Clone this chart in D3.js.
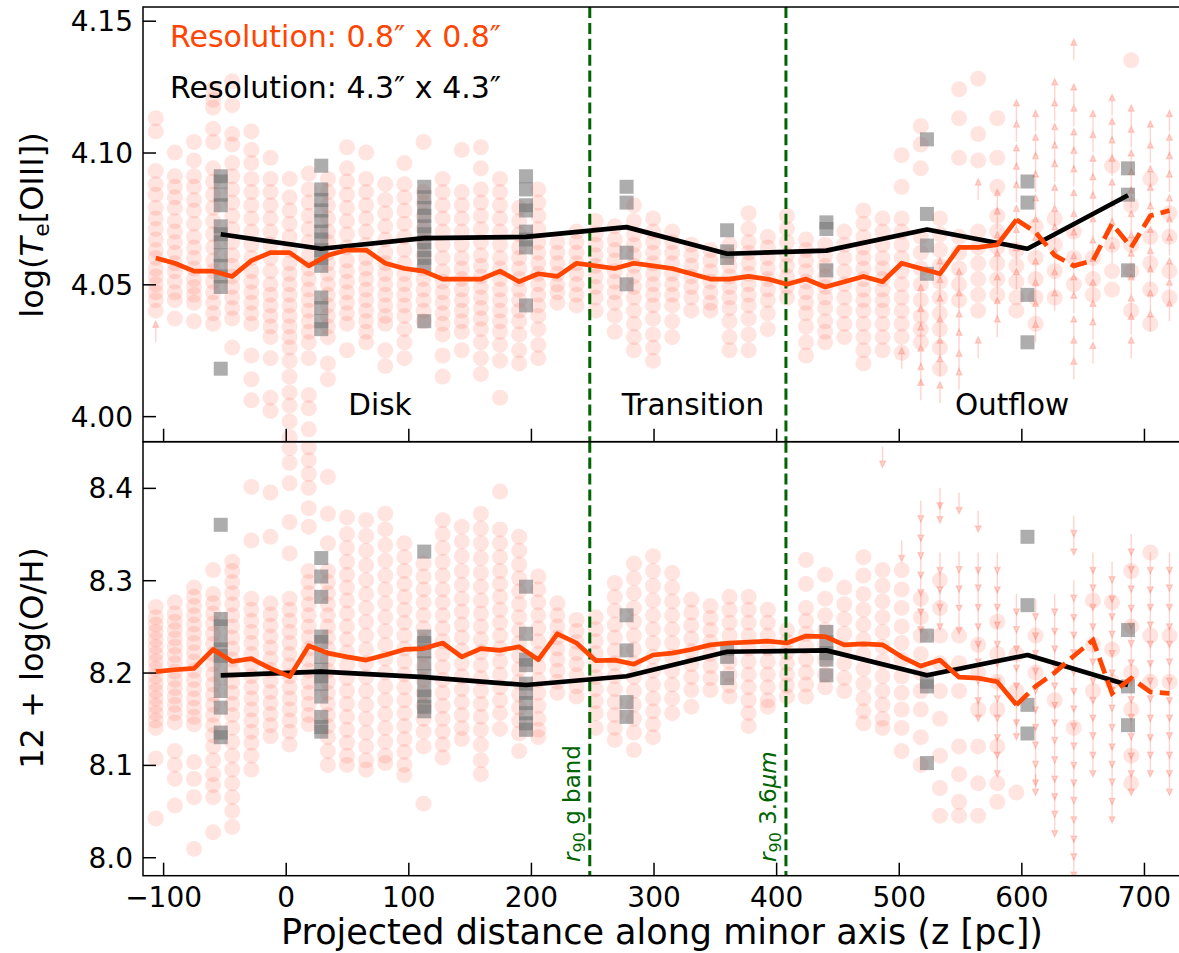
<!DOCTYPE html>
<html>
<head>
<meta charset="utf-8">
<script src="https://cdn.jsdelivr.net/npm/d3@7"></script>
<style>
  body { margin: 0; background: #fff; }
  svg { display: block; font-family: "DejaVu Sans", sans-serif; }
</style>
</head>
<body>
<svg id="chart" width="1179" height="953"></svg>
<script>
// ---- Fine-resolution (0.8") profile: bin centres along the minor axis [pc]
const zBins = [-106, -90.4, -74.8, -59.2, -43.6, -28, -12.4, 3.2, 18.8, 34.4, 50, 65.6, 81.2, 96.8,
  112.4, 128, 143.6, 159.2, 174.8, 190.4, 206, 221.6, 237.2, 252.8, 268.4, 284, 299.6, 315.2,
  330.8, 346.4, 362, 377.6, 393.2, 408.8, 424.4, 440, 455.6, 471.2, 486.8, 502.4, 518, 533.6,
  549.2, 564.8, 580.4, 596, 611.6, 627.2, 642.8, 658.4, 674, 689.6, 705.2, 720.8];

// median log Te[OIII] per bin
const teMedian = [4.060, 4.058, 4.055, 4.055, 4.053, 4.059, 4.062, 4.062, 4.057, 4.061, 4.063, 4.063,
  4.058, 4.056, 4.055, 4.052, 4.052, 4.052, 4.055, 4.051, 4.054, 4.053, 4.058, 4.057, 4.056, 4.058,
  4.057, 4.056, 4.054, 4.052, 4.052, 4.053, 4.052, 4.050, 4.052, 4.049, 4.051, 4.053, 4.051, 4.058,
  4.056, 4.054, 4.064, 4.064, 4.065, 4.0745, 4.0698, 4.061, 4.057, 4.059, 4.073, 4.064, 4.076, 4.078];

// median 12 + log(O/H) per bin
const ohMedian = [8.201, 8.203, 8.2045, 8.225, 8.212, 8.215, 8.2045, 8.1955, 8.229, 8.221, 8.217,
  8.2135, 8.219, 8.225, 8.226, 8.232, 8.217, 8.226, 8.224, 8.228, 8.214, 8.242, 8.232, 8.213, 8.2135,
  8.209, 8.219, 8.221, 8.225, 8.230, 8.232, 8.233, 8.234, 8.232, 8.2395, 8.239, 8.230, 8.231, 8.230,
  8.217, 8.207, 8.2135, 8.195, 8.194, 8.190, 8.165, 8.185, 8.200, 8.218, 8.235, 8.1775, 8.194, 8.179, 8.1775];

// bins from here on are dominated by limits: drawn dashed
const limitStart = 45;

// ---- Coarse-resolution (4.3") profile
const zCoarse = [-53, 29, 113, 196, 278, 360, 441, 523, 605, 687];
const teCoarse = [4.069, 4.0635, 4.0675, 4.068, 4.0717, 4.0616, 4.0628, 4.0708, 4.0635, 4.0838];
const ohCoarse = [8.197, 8.201, 8.195, 8.1865, 8.196, 8.2225, 8.224, 8.197, 8.219, 8.1865];

// individual coarse spaxels, one list per coarse bin
const teCoarseSpax = [
  [4.091, 4.089, 4.084, 4.080, 4.072, 4.069, 4.066, 4.061, 4.057, 4.053, 4.049, 4.018],
  [4.095, 4.086, 4.082, 4.078, 4.074, 4.070, 4.067, 4.063, 4.060, 4.057, 4.045, 4.041, 4.036, 4.033],
  [4.087, 4.083, 4.079, 4.076, 4.072, 4.069, 4.066, 4.063, 4.060, 4.057, 4.036],
  [4.091, 4.086, 4.080, 4.078, 4.070, 4.067, 4.064, 4.042],
  [4.087, 4.081, 4.062, 4.050],
  [4.0705, 4.0625, 4.060],
  [4.0735, 4.071, 4.0553],
  [4.105, 4.0767, 4.0647, 4.054],
  [4.089, 4.081, 4.046, 4.028],
  [4.094, 4.084, 4.0553]
];
const ohCoarseSpax = [
  [8.360, 8.258, 8.250, 8.235, 8.225, 8.218, 8.210, 8.195, 8.180, 8.162, 8.135, 8.130],
  [8.324, 8.304, 8.282, 8.239, 8.233, 8.217, 8.203, 8.196, 8.188, 8.174, 8.152, 8.141, 8.136],
  [8.331, 8.239, 8.232, 8.223, 8.210, 8.196, 8.181, 8.174, 8.163, 8.158],
  [8.293, 8.242, 8.214, 8.208, 8.188, 8.178, 8.167, 8.156, 8.145, 8.138],
  [8.262, 8.224, 8.168, 8.152],
  [8.226, 8.217, 8.194],
  [8.244, 8.233, 8.221, 8.214, 8.197],
  [8.240, 8.190, 8.185, 8.102],
  [8.347, 8.273, 8.165, 8.134],
  [8.246, 8.185, 8.143]
];

// individual fine spaxels (detections), one list per fine bin
const teSpax = [
  [4.113,4.108,4.093,4.088,4.084,4.079,4.075,4.071,4.067,4.063,4.060,4.056,4.053,4.050,4.047,4.044,4.040],
  [4.100,4.091,4.087,4.083,4.079,4.074,4.070,4.066,4.062,4.058,4.055,4.051,4.047,4.044,4.037],
  [4.104,4.097,4.091,4.087,4.082,4.078,4.073,4.068,4.064,4.060,4.056,4.052,4.049,4.046,4.043,4.036],
  [4.124,4.120,4.117,4.109,4.104,4.094,4.089,4.084,4.079,4.074,4.069,4.064,4.059,4.055,4.051,4.047,4.043,4.039,4.035],
  [4.127,4.118,4.107,4.103,4.096,4.091,4.086,4.081,4.076,4.071,4.066,4.061,4.057,4.053,4.049,4.045,4.041,4.037,4.026],
  [4.108,4.101,4.096,4.090,4.085,4.080,4.075,4.070,4.065,4.060,4.055,4.051,4.047,4.043,4.039,4.035,4.023,4.014,4.006],
  [4.098,4.090,4.085,4.080,4.075,4.070,4.065,4.060,4.055,4.050,4.046,4.042,4.038,4.034,4.030,4.022,4.007,4.002],
  [4.090,4.083,4.078,4.073,4.068,4.063,4.058,4.054,4.050,4.046,4.042,4.038,4.034,4.030,4.026,4.021,4.015,4.009,4.004,3.998,3.992],
  [4.092,4.086,4.081,4.076,4.071,4.066,4.061,4.056,4.052,4.048,4.044,4.040,4.036,4.032,4.028,4.022,4.008,4.003,3.995],
  [4.090,4.085,4.080,4.075,4.070,4.066,4.062,4.058,4.054,4.050,4.046,4.042,4.038,4.034,4.030,4.020,4.014],
  [4.102,4.094,4.089,4.084,4.079,4.074,4.069,4.064,4.059,4.055,4.051,4.047,4.043,4.039,4.035,4.025],
  [4.100,4.090,4.085,4.080,4.075,4.070,4.065,4.060,4.056,4.052,4.048,4.044,4.040,4.036,4.032,4.028],
  [4.088,4.082,4.077,4.072,4.067,4.062,4.058,4.054,4.050,4.046,4.042,4.038,4.035,4.025,4.019],
  [4.096,4.088,4.083,4.078,4.073,4.068,4.063,4.058,4.054,4.050,4.046,4.042,4.038,4.033,4.028,4.022],
  [4.104,4.085,4.081,4.076,4.071,4.066,4.061,4.056,4.052,4.048,4.044,4.040,4.036],
  [4.090,4.085,4.080,4.075,4.070,4.065,4.060,4.055,4.051,4.047,4.043,4.039,4.035,4.031,4.023,4.015],
  [4.101,4.085,4.080,4.075,4.070,4.065,4.060,4.056,4.052,4.048,4.044,4.040,4.036,4.032,4.025],
  [4.102,4.094,4.086,4.081,4.076,4.071,4.066,4.061,4.057,4.053,4.049,4.045,4.041,4.037,4.033,4.028,4.022,4.016],
  [4.090,4.085,4.080,4.075,4.070,4.065,4.060,4.056,4.052,4.048,4.044,4.040,4.036,4.032,4.027,4.021,4.007],
  [4.079,4.074,4.069,4.064,4.060,4.056,4.052,4.048,4.044,4.040,4.036,4.031,4.025,4.020],
  [4.086,4.081,4.076,4.071,4.066,4.062,4.058,4.054,4.050,4.046,4.042,4.038,4.033,4.027,4.022],
  [4.066,4.062,4.058,4.054,4.050,4.047,4.043],
  [4.070,4.066,4.062,4.058,4.054,4.050,4.046,4.042],
  [4.074,4.069,4.065,4.061,4.057,4.053,4.049,4.045,4.040],
  [4.072,4.067,4.063,4.059,4.055,4.051,4.047,4.043,4.038,4.032],
  [4.080,4.074,4.069,4.065,4.061,4.057,4.053,4.049,4.045,4.040,4.035,4.030,4.025],
  [4.075,4.070,4.066,4.062,4.058,4.054,4.050,4.046,4.042,4.037,4.031,4.026,4.021],
  [4.070,4.066,4.062,4.058,4.054,4.050,4.046,4.042,4.036,4.030],
  [4.065,4.061,4.057,4.053,4.049,4.045,4.040],
  [4.063,4.059,4.055,4.051,4.047,4.043,4.040],
  [4.065,4.061,4.057,4.053,4.049,4.045,4.041,4.036,4.030,4.025],
  [4.077,4.071,4.066,4.062,4.058,4.054,4.050,4.046,4.042,4.037,4.031,4.025],
  [4.068,4.064,4.060,4.056,4.052,4.048,4.044,4.039,4.033],
  [4.076,4.071,4.066,4.061,4.057,4.053,4.049,4.045],
  [4.067,4.063,4.059,4.055,4.051,4.047,4.043,4.039,4.034,4.028,4.023],
  [4.065,4.061,4.057,4.053,4.049,4.045,4.041,4.036,4.032,4.028],
  [4.070,4.065,4.060,4.055,4.050,4.045,4.040,4.035,4.030],
  [4.078,4.073,4.068,4.064,4.060,4.056,4.052,4.048,4.044,4.040,4.035,4.030,4.025,4.020],
  [4.075,4.070,4.065,4.060,4.056,4.052,4.048,4.044,4.040,4.035,4.030,4.025],
  [4.099,4.087,4.075,4.070,4.065,4.060,4.055,4.050,4.045,4.040,4.035,4.030,4.024],
  [4.110,4.103,4.094,4.068,4.062,4.056,4.050,4.044,4.038,4.033,4.028],
  [4.075,4.069,4.063,4.057,4.051,4.045,4.039,4.033,4.026,4.018],
  [4.124,4.113,4.098,4.068,4.062,4.056,4.050,4.044],
  [4.128,4.107,4.097,4.070,4.064,4.058,4.052,4.046,4.040],
  [4.113,4.098,4.087,4.076,4.070,4.064,4.058,4.052,4.046],
  [4.063,4.057,4.051,4.045,4.040],
  [4.072,4.060,4.052,4.045,4.035],
  [4.075,4.065,4.055,4.045],
  [4.070,4.060,4.050],
  [4.060,4.052,4.046],
  [4.095,4.065,4.055,4.048],
  [4.135,4.080,4.065,4.055,4.040],
  [4.090,4.068,4.058,4.048,4.035],
  [4.077,4.068,4.055,4.045]
];

const ohSpax = [
  [8.271,8.260,8.252,8.244,8.236,8.228,8.220,8.212,8.204,8.196,8.188,8.180,8.172,8.164,8.156,8.148,8.140,8.107,8.042],
  [8.276,8.264,8.255,8.246,8.237,8.228,8.219,8.210,8.201,8.192,8.183,8.174,8.165,8.156,8.146,8.115,8.100,8.085,8.056],
  [8.292,8.282,8.272,8.262,8.252,8.242,8.232,8.222,8.212,8.202,8.192,8.182,8.172,8.162,8.152,8.144,8.103,8.085,8.065,8.009],
  [8.311,8.285,8.275,8.264,8.253,8.242,8.231,8.220,8.209,8.198,8.187,8.176,8.165,8.154,8.143,8.132,8.120,8.105,8.090,8.078,8.065,8.027],
  [8.320,8.310,8.298,8.286,8.274,8.262,8.250,8.238,8.226,8.214,8.202,8.190,8.178,8.166,8.154,8.140,8.125,8.110,8.095,8.080,8.065,8.050,8.033],
  [8.401,8.343,8.280,8.268,8.256,8.244,8.232,8.220,8.208,8.196,8.184,8.172,8.160,8.148,8.136,8.124,8.110,8.095],
  [8.395,8.347,8.275,8.263,8.251,8.239,8.227,8.215,8.203,8.191,8.179,8.167,8.155,8.143,8.131],
  [8.443,8.427,8.405,8.363,8.329,8.280,8.268,8.256,8.244,8.232,8.220,8.208,8.196,8.184,8.172,8.160,8.148,8.136,8.122],
  [8.444,8.430,8.415,8.400,8.378,8.358,8.310,8.298,8.286,8.274,8.262,8.250,8.238,8.226,8.214,8.202,8.190,8.178,8.166,8.154,8.144],
  [8.412,8.372,8.340,8.310,8.298,8.286,8.274,8.262,8.250,8.238,8.226,8.214,8.202,8.190,8.178,8.166,8.154,8.142,8.130,8.115,8.100],
  [8.368,8.350,8.335,8.320,8.306,8.292,8.278,8.264,8.250,8.236,8.222,8.208,8.194,8.180,8.166,8.152,8.138,8.124,8.110,8.100],
  [8.365,8.348,8.332,8.316,8.300,8.285,8.270,8.255,8.240,8.225,8.210,8.195,8.180,8.165,8.150,8.135,8.120,8.105,8.095],
  [8.372,8.355,8.338,8.321,8.305,8.290,8.275,8.260,8.245,8.230,8.215,8.200,8.185,8.170,8.155,8.140,8.125,8.110,8.102],
  [8.340,8.325,8.310,8.296,8.282,8.268,8.254,8.240,8.226,8.212,8.198,8.184,8.170,8.156,8.142,8.128,8.114,8.100,8.089],
  [8.318,8.304,8.290,8.276,8.262,8.248,8.234,8.220,8.206,8.192,8.178,8.164,8.150,8.136,8.120,8.058],
  [8.365,8.350,8.335,8.320,8.305,8.290,8.276,8.262,8.248,8.234,8.220,8.206,8.192,8.178,8.164,8.150,8.136,8.122,8.108],
  [8.358,8.342,8.326,8.310,8.295,8.280,8.266,8.252,8.238,8.224,8.210,8.196,8.182,8.168,8.154,8.140,8.128],
  [8.372,8.356,8.340,8.324,8.308,8.293,8.278,8.264,8.250,8.236,8.222,8.208,8.194,8.180,8.166,8.152,8.138,8.122,8.105,8.090],
  [8.396,8.355,8.340,8.325,8.310,8.296,8.282,8.268,8.254,8.240,8.226,8.212,8.198,8.184,8.170,8.156,8.139],
  [8.347,8.332,8.317,8.302,8.288,8.274,8.260,8.246,8.232,8.218,8.204,8.190,8.176,8.162,8.148,8.134,8.115],
  [8.304,8.290,8.276,8.262,8.248,8.234,8.220,8.206,8.192,8.178,8.164,8.150,8.138,8.130],
  [8.275,8.262,8.250,8.238,8.226,8.214,8.202,8.190,8.178],
  [8.257,8.245,8.233,8.221,8.209,8.197,8.185,8.174],
  [8.260,8.247,8.234,8.221,8.208,8.195,8.182,8.169,8.156,8.140],
  [8.297,8.282,8.267,8.252,8.238,8.224,8.210,8.196,8.182,8.168,8.154,8.140,8.127],
  [8.318,8.302,8.286,8.270,8.255,8.240,8.225,8.210,8.195,8.180,8.165,8.150,8.135,8.116],
  [8.326,8.310,8.294,8.278,8.262,8.247,8.232,8.217,8.202,8.187,8.172,8.158,8.144,8.130],
  [8.308,8.292,8.277,8.262,8.247,8.232,8.217,8.202,8.187,8.172,8.156],
  [8.279,8.265,8.251,8.237,8.223,8.209,8.195,8.181,8.163],
  [8.272,8.259,8.246,8.233,8.220,8.207,8.194,8.181],
  [8.282,8.268,8.254,8.240,8.226,8.212,8.198,8.186,8.174],
  [8.282,8.268,8.254,8.240,8.226,8.212,8.198,8.184,8.170,8.156,8.142],
  [8.268,8.254,8.240,8.226,8.212,8.198,8.184,8.170,8.163],
  [8.246,8.234,8.222,8.210,8.198,8.186,8.174],
  [8.322,8.296,8.270,8.256,8.242,8.228,8.214,8.200,8.187,8.174],
  [8.306,8.280,8.262,8.246,8.230,8.214,8.198,8.184],
  [8.292,8.274,8.258,8.242,8.226,8.210,8.194,8.180],
  [8.325,8.305,8.285,8.268,8.252,8.236,8.220,8.204,8.188,8.172,8.158,8.145],
  [8.311,8.294,8.277,8.260,8.244,8.228,8.212,8.196,8.180,8.165,8.150,8.140],
  [8.311,8.290,8.270,8.250,8.232,8.214,8.196,8.178,8.160,8.140,8.115],
  [8.280,8.260,8.240,8.220,8.200,8.180,8.160,8.130,8.100],
  [8.300,8.270,8.240,8.210,8.180,8.150,8.110,8.075,8.045],
  [8.240,8.210,8.180,8.120,8.090,8.060,8.045],
  [8.230,8.200,8.160,8.120,8.080,8.045],
  [8.255,8.220,8.190,8.160,8.120,8.080,8.060],
  [8.220,8.180,8.070],
  [8.240,8.200],
  [8.170],
  [8.140],
  [8.278,8.230,8.180],
  [8.276,8.225,8.190],
  [8.310,8.250,8.200,8.160,8.110,8.080],
  [8.330,8.240,8.190],
  [8.240,8.190]
];

// lower limits on Te (arrows up), per fine bin
const teLower = [
  [4.028], [], [], [], [], [], [], [], [], [], [], [], [], [], [], [], [], [], [], [],
  [], [], [], [], [], [], [], [], [], [], [], [], [], [], [], [], [], [], [],
  [4.018],
  [4.042,4.034,4.027,4.019,4.012,4.006],
  [4.052,4.045,4.038,4.030,4.022,4.015,4.005],
  [4.048,4.040,4.032,4.025,4.017,4.010],
  [4.082,4.022],
  [4.078,4.071,4.062,4.055,4.046,4.037,4.030],
  [4.112,4.104,4.095,4.088,4.081,4.072,4.064,4.057,4.048],
  [4.108,4.099,4.092,4.085,4.076,4.068,4.061,4.052,4.044,4.036,4.028],
  [4.120,4.112,4.103,4.096,4.089,4.080,4.072,4.065,4.056,4.048,4.040],
  [4.135,4.118,4.110,4.101,4.094,4.087,4.078,4.070,4.063,4.054,4.046,4.039,4.030,4.022,4.014],
  [4.108,4.100,4.091,4.084,4.077,4.068,4.060,4.053,4.044,4.036,4.029,4.020],
  [4.114,4.105,4.098,4.091,4.082,4.074,4.067,4.058],
  [4.110,4.102,4.093,4.086,4.079,4.070,4.062,4.055,4.046,4.038,4.031,4.022],
  [4.104,4.096,4.087,4.080,4.073,4.064,4.056,4.049,4.040,4.032],
  [4.108,4.099,4.092,4.085,4.076,4.068,4.061,4.052,4.044,4.036]
];

// upper limits on O/H (arrows down), per fine bin
const ohUpper = [
  [], [], [], [], [], [], [], [], [], [], [], [], [], [], [], [], [], [], [], [],
  [], [], [], [], [], [], [], [], [], [], [], [], [], [], [], [], [], [],
  [8.445],
  [8.343],
  [8.386,8.365,8.346,8.325,8.306,8.285,8.266],
  [8.400,8.385,8.330,8.309,8.290,8.269],
  [8.395,8.331,8.310,8.289,8.265],
  [8.375,8.330,8.311,8.290,8.269,8.250,8.231,8.210,8.189,8.170],
  [8.330,8.309,8.290,8.271,8.250,8.229,8.210,8.191,8.170,8.149,8.130,8.110],
  [8.285,8.266,8.245,8.224,8.205,8.186,8.165,8.150],
  [8.280,8.259,8.240,8.221,8.200,8.179,8.160,8.141,8.120,8.100,8.090],
  [8.285,8.264,8.245,8.226,8.205,8.184,8.165,8.146,8.125,8.104,8.085,8.066,8.045],
  [8.370,8.350,8.300,8.279,8.260,8.241,8.220,8.199,8.180,8.161,8.140,8.119,8.100,8.081,8.060,8.039,8.020,8.000],
  [8.330,8.311,8.290,8.269,8.250,8.231,8.210,8.189,8.170,8.151,8.130,8.110],
  [8.320,8.299,8.280,8.261,8.240,8.219,8.200,8.181,8.160,8.139,8.120,8.101,8.080,8.060],
  [8.350,8.331,8.310,8.289,8.270,8.251,8.230,8.209,8.190,8.171,8.150,8.129,8.110,8.090],
  [8.330,8.309,8.290,8.271,8.250,8.229,8.210,8.191,8.170,8.149,8.130,8.110],
  [8.330,8.311,8.290,8.269,8.250,8.231,8.210,8.189,8.170,8.151,8.130,8.110,8.090]
];

// radii enclosing 90% of the light
const r90 = [
  { z: 248, band: "g band", unit: false },
  { z: 408, band: "3.6", unit: true }
];

const xTicks = [-100, 0, 100, 200, 300, 400, 500, 600, 700];
const teTicks = [4.00, 4.05, 4.10, 4.15];
const ohTicks = [8.0, 8.1, 8.2, 8.3, 8.4];

// ---------------------------------------------------------------- drawing
const svg = d3.select("#chart");
const FONT = "DejaVu Sans";
const RED = "#ff4500";
const SPAX = "#ff5a40";
const GREEN = "#006400";

const left = 143, right = 1180;
const x = d3.scaleLinear().domain([-116.4, 729.4]).range([left, right]);

const panels = [
  { key: "te", top: 7, bottom: 441.7, y: d3.scaleLinear().domain([3.9903, 4.1552]).range([441.7, 7]),
    spax: teSpax, limits: teLower, dir: -1, median: teMedian, coarse: teCoarse, coarseSpax: teCoarseSpax,
    ticks: teTicks, fmt: d3.format(".2f") },
  { key: "oh", top: 441.7, bottom: 875.7, y: d3.scaleLinear().domain([7.980, 8.450]).range([875.7, 441.7]),
    spax: ohSpax, limits: ohUpper, dir: 1, median: ohMedian, coarse: ohCoarse, coarseSpax: ohCoarseSpax,
    ticks: ohTicks, fmt: d3.format(".1f") }
];

const defs = svg.append("defs");

panels.forEach(p => {
  defs.append("clipPath").attr("id", "clip-" + p.key)
    .append("rect").attr("x", left).attr("y", p.top)
    .attr("width", right - left).attr("height", p.bottom - p.top);

  const g = svg.append("g").attr("clip-path", `url(#clip-${p.key})`);
  const y = p.y;

  // fine spaxels
  const pts = [];
  p.spax.forEach((col, i) => col.forEach(v => pts.push([zBins[i], v])));
  g.append("g").selectAll("circle").data(pts).join("circle")
    .attr("cx", d => x(d[0])).attr("cy", d => y(d[1])).attr("r", 8)
    .attr("fill", SPAX).attr("fill-opacity", 0.165);

  // limits drawn as arrows
  const lims = [];
  p.limits.forEach((col, i) => col.forEach(v => lims.push([zBins[i], v])));
  const L = 15, hw = 2.8, hl = 6;
  const arr = g.append("g").attr("fill", SPAX).attr("stroke", SPAX)
    .attr("fill-opacity", 0.26).attr("stroke-opacity", 0.26);
  arr.selectAll("path").data(lims).join("path")
    .attr("d", d => {
      const cx = x(d[0]), cy = y(d[1]), s = p.dir;
      const tip = cy + s * (L + hl);
      return `M${cx},${cy}L${cx},${cy + s * L}` +
        `M${cx},${tip}L${cx - hw},${cy + s * L}L${cx + hw},${cy + s * L}Z`;
    })
    .attr("stroke-width", 1.4);

  // r90 markers
  g.selectAll("line.r90").data(r90).join("line").attr("class", "r90")
    .attr("x1", d => x(d.z)).attr("x2", d => x(d.z))
    .attr("y1", p.top).attr("y2", p.bottom)
    .attr("stroke", GREEN).attr("stroke-width", 3).attr("stroke-dasharray", "11.1,4.8");

  // coarse spaxels
  const sq = [];
  p.coarseSpax.forEach((col, i) => col.forEach(v => sq.push([zCoarse[i], v])));
  g.append("g").selectAll("rect").data(sq).join("rect")
    .attr("x", d => x(d[0]) - 7).attr("y", d => y(d[1]) - 7)
    .attr("width", 14).attr("height", 14)
    .attr("fill", "#767676").attr("fill-opacity", 0.6);

  // coarse median profile
  const line = d3.line().x(d => x(d[0])).y(d => y(d[1]));
  g.append("path").datum(zCoarse.map((z, i) => [z, p.coarse[i]]))
    .attr("d", line).attr("fill", "none").attr("stroke", "#000")
    .attr("stroke-width", 4.7).attr("stroke-linejoin", "round");

  // fine median profile: solid, then dashed where limits dominate
  const fine = zBins.map((z, i) => [z, p.median[i]]);
  g.append("path").datum(fine.slice(0, limitStart + 1))
    .attr("d", line).attr("fill", "none").attr("stroke", RED)
    .attr("stroke-width", 4.7).attr("stroke-linejoin", "round");
  g.append("path").datum(fine.slice(limitStart))
    .attr("d", line).attr("fill", "none").attr("stroke", RED)
    .attr("stroke-width", 4.7).attr("stroke-dasharray", "16.6,7.2");

  // frame
  svg.append("rect").attr("x", left).attr("y", p.top)
    .attr("width", right - left).attr("height", p.bottom - p.top)
    .attr("fill", "none").attr("stroke", "#000").attr("stroke-width", 1.5);

  // y axis, ticks pointing inward
  const ya = svg.append("g").attr("transform", `translate(${left},0)`)
    .call(d3.axisLeft(y).tickValues(p.ticks).tickFormat(p.fmt)
      .tickSizeInner(-13).tickSizeOuter(0).tickPadding(10));
  ya.select(".domain").remove();
  ya.selectAll("line").attr("stroke-width", 1.5);
  ya.selectAll("text").attr("font-size", 28).attr("font-family", FONT).attr("fill", "#000").attr("dy", "0.36em");

  // x ticks at the bottom of each panel
  const xa = svg.append("g").attr("transform", `translate(0,${p.bottom})`)
    .call(d3.axisBottom(x).tickValues(xTicks)
      .tickFormat(p.key === "oh" ? d3.format("d") : () => "")
      .tickSizeInner(-13).tickSizeOuter(0).tickPadding(11));
  xa.select(".domain").remove();
  xa.selectAll("line").attr("stroke-width", 1.5);
  xa.selectAll("text").attr("font-size", 28).attr("font-family", FONT).attr("fill", "#000");
});

// r90 labels (bottom panel)
r90.forEach(d => {
  const t = svg.append("text")
    .attr("transform", `translate(${x(d.z) - 10},862) rotate(-90)`)
    .attr("font-family", FONT).attr("font-size", 23).attr("fill", GREEN);
  t.append("tspan").attr("font-style", "italic").text("r");
  t.append("tspan").attr("font-size", 16).attr("dy", 5).text("90");
  t.append("tspan").attr("dy", -5).text(" " + d.band);
  if (d.unit) t.append("tspan").attr("font-style", "italic").text("μm");
});

// region names
[["Disk", 380], ["Transition", 693], ["Outflow", 1012]].forEach(([s, cx]) => {
  svg.append("text").attr("x", cx).attr("y", 415).attr("text-anchor", "middle")
    .attr("font-family", FONT).attr("font-size", 29.5).attr("fill", "#000").text(s);
});

// resolution key
svg.append("text").attr("x", 170).attr("y", 47).attr("font-family", FONT)
  .attr("font-size", 30).attr("fill", RED).text("Resolution: 0.8″ x 0.8″");
svg.append("text").attr("x", 170).attr("y", 98).attr("font-family", FONT)
  .attr("font-size", 30).attr("fill", "#000").text("Resolution: 4.3″ x 4.3″");

// axis titles
const yl1 = svg.append("text").attr("transform", "translate(43,225) rotate(-90)")
  .attr("text-anchor", "middle").attr("font-family", FONT).attr("font-size", 32).attr("fill", "#000");
yl1.append("tspan").text("log(");
yl1.append("tspan").attr("font-style", "italic").text("T");
yl1.append("tspan").attr("font-size", 22).attr("dy", 6).text("e");
yl1.append("tspan").attr("dy", -6).text("[OIII])");

svg.append("text").attr("transform", "translate(43,658) rotate(-90)")
  .attr("text-anchor", "middle").attr("font-family", FONT).attr("font-size", 32).attr("fill", "#000")
  .text("12 + log(O/H)");

svg.append("text").attr("x", 662).attr("y", 944).attr("text-anchor", "middle")
  .attr("font-family", FONT).attr("font-size", 35).attr("fill", "#000")
  .text("Projected distance along minor axis (z [pc])");
</script>
</body>
</html>
